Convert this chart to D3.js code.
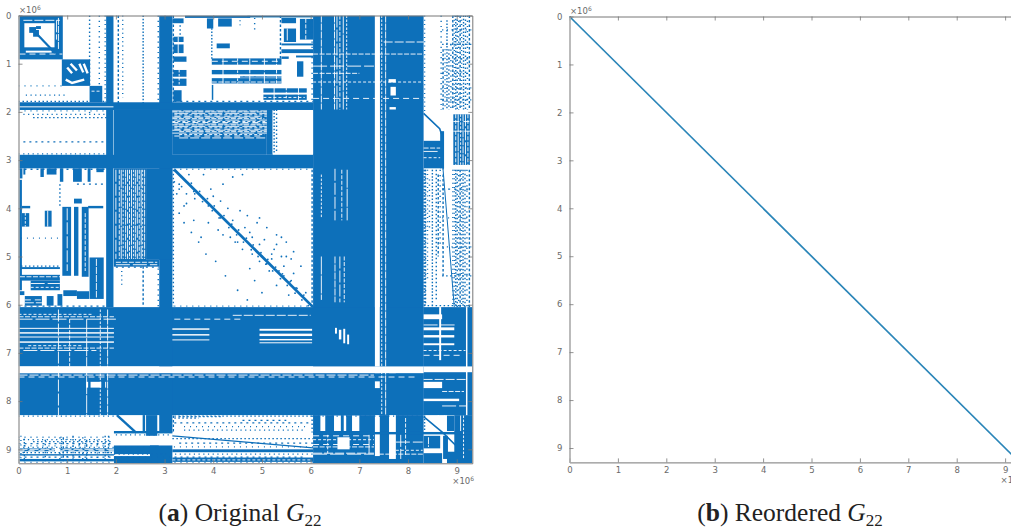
<!DOCTYPE html>
<html>
<head>
<meta charset="utf-8">
<script src="https://cdn.jsdelivr.net/npm/d3@7"></script>
<style>
  html, body { margin: 0; padding: 0; background: #fff; overflow: hidden; }
  .tick text, .mult { font-family: "DejaVu Sans", sans-serif; font-size: 8.5px; fill: #6a6a6a; }
  .caption { font-family: "Liberation Serif", serif; font-size: 25.5px; fill: #222; text-anchor: middle; }
</style>
</head>
<body>
<div class="canvas"></div>
<script>
// all positions below are matrix indices in units of 1e6 : [x0, x1, y0, y1]
const tickValues = [0, 1, 2, 3, 4, 5, 6, 7, 8, 9];

// solid parts of the sparsity pattern
const denseBlocks = [
  [6.05, 7.32, 0, 8.29], [7.42, 8.32, 0, 8.29],
  [0, 8.32, 6.05, 7.28], [0, 8.32, 7.42, 8.29],
  [7.32, 7.62, 7.28, 7.42], [7.75, 8.32, 7.28, 7.42],
  [2.89, 3.16, 0, 8.65], [1.96, 3.16, 1.96, 3.17], [2.62, 3.16, 3.17, 5.07],
  [0, 6.05, 2.89, 3.17], [3.16, 5.1, 1.96, 2.89], [5.1, 5.22, 1.96, 2.89],
  [0, 6.05, 1.8, 1.96], [1.8, 1.95, 0, 6.05],
  [0, 0.91, 0, 0.91], [0.89, 1.47, 0.91, 1.46], [1.46, 1.72, 1.46, 1.8],
  [1.96, 2.62, 3.17, 5.2], [1.96, 2.89, 5.07, 5.21],
  [0, 0.07, 3.41, 5.7],
  [8.32, 9.32, 6.05, 8.29], [8.32, 8.68, 2.6, 3.17], [8.93, 9.27, 2.05, 3.1], [8.66, 8.74, 2.4, 3.17],
  [6.05, 8.32, 8.29, 9.29], [8.95, 9.32, 8.29, 9.29]
];

// holes cut out of the solid parts
const emptyBlocks = [
  [0.12, 0.74, 0.16, 0.66], [0.15, 0.68, 0.73, 0.77],
  [0, 1.95, 1.885, 1.905], [0, 8.32, 7.28, 7.42],
  [7.32, 7.42, 0, 7.28], [7.32, 7.42, 7.59, 7.73],
  [7.61, 7.75, 7.3, 7.42],
  [5.22, 6.05, 1.97, 2.87], [1.98, 2.88, 5.22, 6.02],
  [6.2, 6.3, 8.3, 8.62], [6.48, 6.62, 8.3, 8.62], [6.68, 6.73, 8.3, 8.62], [6.85, 7, 8.3, 8.62],
  [6.55, 6.8, 8.75, 9],
  [7.32, 7.42, 8.29, 9.14], [7.61, 7.75, 8.29, 9.2],
  [8.32, 9.32, 7.28, 7.4], [8.32, 8.7, 7.6, 7.73], [8.32, 8.7, 6.2, 6.3], [8.32, 8.95, 6.47, 6.53],
  [8.32, 8.95, 6.63, 6.68], [8.32, 8.95, 6.8, 6.84], [8.64, 8.68, 6.05, 7.15], [9.19, 9.22, 6.05, 8.29],
  [8.32, 9.05, 7.95, 8.0], [1.39, 1.43, 7.6, 7.72], [1.48, 1.7, 7.6, 7.72], [1.78, 1.8, 7.6, 7.72],
  [0, 1.96, 6.48, 6.5], [0, 1.96, 6.57, 6.6], [0, 1.96, 6.66, 6.68], [0, 1.96, 6.76, 6.79],
  [3.16, 3.92, 6.49, 6.52], [3.16, 3.92, 6.61, 6.64], [3.16, 3.92, 6.72, 6.74],
  [4.95, 6.03, 6.5, 6.54], [4.95, 6.03, 6.6, 6.65], [4.95, 6.03, 6.71, 6.74], [4.95, 6.03, 6.78, 6.8],
  [6.5, 6.54, 6.48, 6.6], [6.58, 6.63, 6.52, 6.72], [6.67, 6.71, 6.5, 6.8], [6.75, 6.79, 6.62, 6.82],
  [7.6, 7.75, 1.32, 1.39], [7.64, 7.75, 1.48, 1.66], [7.62, 7.75, 1.9, 1.95]
];

// smaller solid pieces that sit in the white areas
const detailBlocks = [
  [0.22, 0.36, 0.24, 0.36], [0.3, 0.42, 0.3, 0.44], [0.36, 0.46, 0.22, 0.28],
  [3.16, 3.39, 0.06, 0.16], [3.18, 3.39, 0.44, 0.55], [3.18, 3.39, 0.6, 0.78],
  [3.18, 3.45, 0.85, 0.96], [3.18, 3.45, 1.13, 1.27], [3.18, 3.45, 1.31, 1.46],
  [3.18, 3.35, 1.55, 1.79], [3.42, 4.76, 0, 0.05],
  [3.87, 4, 0.06, 0.27], [4.1, 4.38, 0.06, 0.23], [4.07, 4.34, 0.58, 0.68],
  [3.97, 5.4, 0.89, 1.02], [3.97, 5.4, 1.13, 1.22], [3.97, 5.4, 1.3, 1.41], [3.97, 4, 1.44, 1.75],
  [4.55, 5.4, 1.26, 1.29], [5.03, 5.92, 1.51, 1.6], [5.03, 5.92, 1.64, 1.75],
  [4.7, 6.05, 0, 0.04], [5.4, 5.7, 0.05, 0.16], [5.45, 5.7, 0.27, 0.55], [5.78, 6.05, 0.07, 0.5],
  [5.4, 6.05, 0.58, 0.62], [5.4, 6.05, 0.7, 0.78], [5.7, 6.05, 0.83, 0.87],
  [5.72, 5.85, 0.95, 1.27], [5.4, 5.55, 0.85, 0.9],
  [0.02, 0.08, 3.17, 3.38], [0.1, 0.14, 3.17, 3.3], [0.45, 0.52, 3.17, 3.35], [0.58, 0.78, 3.17, 3.3],
  [0.85, 0.92, 3.17, 3.45], [1.12, 1.3, 3.17, 3.45], [1.42, 1.48, 3.17, 3.45], [1.6, 1.75, 3.17, 3.25],
  [0.07, 0.24, 3.95, 4.0], [0.07, 0.22, 4.1, 4.38], [0.54, 0.68, 4.05, 4.38],
  [0.9, 1.08, 3.97, 5.4], [1.14, 1.23, 3.97, 5.4], [1.3, 1.44, 3.97, 5.42], [1.14, 1.3, 3.8, 3.9],
  [1.43, 1.74, 3.95, 4], [1.46, 1.75, 5.02, 5.88],
  [0.03, 0.85, 5.38, 5.5], [0.25, 0.85, 5.5, 5.7], [0.13, 0.48, 5.82, 6.02], [0.58, 0.72, 5.82, 6.02],
  [0.8, 0.9, 5.78, 6.02], [0.92, 1.2, 5.7, 5.82], [1.2, 1.45, 5.72, 5.88], [0.05, 0.85, 5.22, 5.26],
  [0.02, 0.12, 5.72, 5.8],
  [0, 0.75, 8.98, 9.04], [0.85, 1.96, 8.98, 9.04], [0, 1.96, 9.1, 9.13], [0, 1.96, 9.2, 9.25], [1.96, 2.88, 8.92, 9.1], [1.96, 2.88, 9.14, 9.29],
  [2.55, 2.6, 8.29, 8.62], [2.62, 2.85, 8.29, 8.72],
  [1.96, 3.16, 8.62, 8.67], [3.16, 6.05, 9.0, 9.06], [3.16, 6.05, 9.17, 9.26],
  [2.7, 3.16, 8.92, 9.29], [8.32, 8.66, 8.72, 8.98], [8.32, 8.7, 9.08, 9.29],
  [6.05, 9.32, 8.64, 8.69], [8.72, 8.82, 8.72, 9.2],
  [8.8, 8.95, 8.3, 8.62], [8.8, 9.0, 9.05, 9.29]
];

// columns and rows with scattered nonzeros : [position, from, to]
const sparseColumns = [
  [1.46, 0, 1.45], [1.66, 0, 1.45], [2.05, 0, 1.9], [2.14, 0, 1.7], [2.56, 0, 1.9],
  [0.85, 3.5, 3.95], [1.46, 2.0, 2.1], [2.56, 5.2, 6.02], [2.12, 5.3, 5.6],
  [3.97, 0.2, 0.9], [3.32, 0.2, 0.45], [4.85, 0.05, 0.3], [5.38, 0, 0.9], [4.55, 0.1, 0.2],
  [5.25, 1.95, 2.85], [5.3, 1.95, 2.85],
  [8.68, 0, 1.95], [8.72, 0.7, 1.95], [8.76, 0.7, 1.95], [8.8, 0.1, 1.95], [8.84, 0.7, 1.95], [8.88, 0.6, 1.95],
  [8.92, 0, 1.95], [8.95, 0, 1.95], [8.98, 0, 1.95], [9.01, 0, 1.95], [9.04, 0, 1.95], [9.07, 0, 1.95], [9.1, 0, 1.95],
  [9.14, 0, 1.95], [9.18, 0, 1.95], [9.22, 0, 1.95], [9.26, 0, 1.95],
  [8.4, 3.2, 5.5], [8.5, 3.2, 6.0], [8.58, 3.2, 5.9], [8.66, 3.2, 4.8], [8.72, 3.3, 5.4],
  [8.95, 3.2, 6.05], [8.98, 3.2, 6.05], [9.01, 3.2, 6.05], [9.04, 3.2, 6.05], [9.07, 3.2, 6.05], [9.1, 3.2, 6.05],
  [9.13, 3.2, 6.05], [9.17, 3.2, 6.05], [9.21, 3.2, 6.05], [9.26, 3.2, 6.05],
  [8.92, 3.2, 6.05], [8.33, 3.2, 6.0], [8.36, 3.2, 6.0], [8.44, 3.4, 4.4], [8.62, 3.3, 5.0],
  [0.05, 8.72, 9.25], [0.12, 8.78, 9.25], [0.55, 8.8, 9.25], [0.85, 8.75, 9.25], [0.92, 8.75, 9.25], [1.0, 8.78, 9.25],
  [1.12, 8.72, 9.25], [1.25, 8.8, 9.25], [1.32, 8.75, 9.25], [1.4, 8.8, 9.25], [1.62, 8.8, 9.25], [1.78, 8.72, 9.25], [1.85, 8.72, 9.25],
  // fuzz on the edges of the big bands
  [6.03, 0, 1.8], [6.03, 3.2, 6.05], [8.34, 0, 2], [8.35, 3.2, 6.03], [3.18, 3.2, 6.03], [2.87, 0, 1.85],
  [3.18, 0, 1.8], [1.78, 0, 1.8], [8.34, 8.3, 8.6], [6.03, 8.3, 8.65], [2.87, 5.25, 6.03], [3.18, 8.3, 8.65]
];
const sparseRows = [
  [2.05, 0.1, 1.9], [2.12, 0.3, 1.85], [2.62, 0.1, 1.9], [1.46, 0, 0.9], [1.65, 0.15, 0.95],
  [8.32, 3.3, 4.2], [8.45, 3.2, 6.0], [8.53, 3.4, 5.9], [8.6, 3.4, 5.9], [8.35, 3.2, 3.7], [8.4, 4.6, 5.5],
  [8.75, 0, 1.96], [8.8, 0, 1.7], [8.84, 0.3, 1.9], [8.88, 0, 1.96], [8.93, 0, 1.96], [8.96, 0, 1.96], [9.07, 0, 1.96], [9.16, 0, 5.9], [9.27, 0, 8.3],
  [8.7, 2, 3.16], [8.78, 3.16, 6.05], [8.87, 3.3, 6.05], [8.95, 1.96, 6.05],
  [9.1, 1.96, 6.05], [5.2, 0.05, 0.85], [3.5, 1.2, 1.75], [4.62, 0.05, 1.2],
  [0.3, 8.7, 9.3], [0.6, 8.7, 9.3], [0.9, 8.7, 9.3], [1.2, 8.7, 9.3], [1.5, 8.7, 9.3], [1.75, 8.7, 9.3],
  [3.6, 8.7, 9.3], [4.2, 8.7, 9.3], [4.8, 8.7, 9.3], [5.4, 8.7, 9.3],
  // fuzz on the edges of the big bands
  [6.03, 0, 1.9], [6.03, 3.2, 6.05], [8.31, 0, 2], [8.31, 3.2, 6.05], [3.19, 0, 1.9], [3.19, 3.2, 6.0],
  [2.87, 0, 1.9], [1.78, 0, 1.8], [1.78, 3.2, 6.05], [1.98, 0, 1.9], [8.31, 6.05, 8.32], [6.02, 8.32, 9.3], [5.22, 2, 2.88]
];

// rows and columns with gaps in the solid parts
const gapRows = [
  [1.98, 3.16, 5.1], [2.0, 3.16, 5.1], [2.03, 3.2, 5.1], [2.06, 3.2, 5.1], [2.09, 3.2, 5.1], [2.11, 3.16, 5.0], [2.14, 3.16, 5.05],
  [2.17, 3.2, 5.1], [2.2, 3.16, 5.1], [2.22, 3.16, 5.1], [2.25, 3.2, 5.1], [2.27, 3.16, 5.05], [2.3, 3.2, 5.1],
  [2.33, 3.2, 5.1], [2.36, 3.2, 5.1], [2.38, 3.16, 5.1], [2.41, 3.3, 5.1], [2.44, 3.16, 5.1], [2.47, 3.3, 5.05], [2.5, 3.2, 5.05], [2.54, 3.3, 5.1],
  [6.25, 0, 1.96], [6.3, 0, 2], [6.2, 0, 1.5], [6.3, 3.2, 4.6], [6.22, 4.4, 6], [6.9, 0, 1.96], [6.95, 0.1, 1.6], [6.85, 0.2, 1.3], [7.5, 0, 8.2], [7.46, 0, 7.3],
  [0.8, 6.05, 8.32], [1.05, 6.05, 7.3], [1.38, 6.05, 8.32], [1.72, 6.05, 8.32], [0.55, 7.5, 8.32], [1.2, 6.05, 7],
  [6.42, 8.32, 9], [6.95, 8.32, 9.18], [7.05, 8.32, 9.1], [7.55, 8.32, 9.2], [7.8, 8.7, 9.15], [8.1, 8.7, 9.2],
  [8.8, 6.05, 7.3], [8.9, 6.05, 7.3], [9.08, 6.05, 7.3], [9.1, 7.4, 8.32], [8.85, 7.75, 8.3], [9.02, 7.75, 8.3],
  [0.95, 3.97, 5.4], [1.25, 3.97, 5.4], [1.38, 3.97, 5.4], [1.62, 5.03, 5.88], [1.7, 5.03, 5.88],
  [2.2, 8.93, 9.27], [2.4, 8.93, 9.27], [2.75, 8.32, 8.66], [2.82, 8.32, 8.66], [2.95, 8.32, 8.66],
  [0.8, 0.02, 0.9], [0.1, 0.1, 0.85], [5.12, 2, 2.85], [5.17, 2, 2.85], [1.57, 1.5, 1.7], [8.72, 6.05, 7.3], [9.0, 0, 1.96],
  [5.42, 0.03, 0.85], [5.56, 0.25, 0.85], [5.64, 0.25, 0.85], [5.9, 0.13, 0.48], [5.96, 0.13, 0.48],
  [8.95, 6.05, 7.3], [9.1, 6.05, 7.3], [9.22, 3.16, 6], [9.03, 0, 1.96]
];
const gapColumns = [
  [6.49, 0, 1.95], [6.54, 0, 1.95], [6.6, 0, 1.95], [6.67, 0, 1.95], [6.74, 0, 1.95], [6.22, 0, 1.95],
  [6.5, 3.18, 4.25], [6.64, 3.2, 4.25], [6.75, 3.2, 4.25], [6.22, 3.3, 4.2], [6.5, 5, 5.95], [6.6, 5, 5.95], [6.69, 5, 5.95], [6.22, 5, 5.9],
  [7.46, 0, 8.29], [7.54, 0, 8.29], [0.82, 6.1, 8.29], [1.05, 6.3, 7.28], [1.4, 6.3, 8.29], [1.68, 6.1, 8.29], [1.83, 6.1, 8.29],
  [2, 3.2, 5.05], [2.07, 3.2, 5.05], [2.11, 3.2, 5.05], [2.15, 3.2, 5.05], [2.2, 3.2, 5.05], [2.24, 3.2, 5.05], [2.28, 3.2, 5.05], [2.32, 3.2, 5.05],
  [2.36, 3.2, 5.05], [2.4, 3.2, 5.05], [2.44, 3.2, 5.05], [2.48, 3.2, 5.05], [2.52, 3.2, 5.05], [2.55, 3.2, 5.05], [2.59, 3.2, 5.05],
  [8.62, 8.29, 8.6], [8.75, 8.3, 8.62], [9.08, 8.3, 8.62], [9.14, 8.3, 9.2], [8.42, 8.75, 8.95], [7.85, 8.7, 9.2], [7.95, 8.35, 9.15], [7.2, 8.7, 9.1], [6.35, 8.7, 9.1],
  [1.6, 5.05, 5.85], [1.0, 4, 5.3], [1.37, 4.1, 5.3], [0.6, 4.05, 4.38], [0.14, 4.1, 4.38], [0.82, 0.05, 0.7], [0.78, 0.1, 0.5],
  [8.98, 2.05, 3.1], [9.03, 2.05, 3.1], [9.08, 2.05, 3.1], [9.13, 2.05, 3.1], [9.18, 2.05, 3.1], [9.23, 2.05, 3.1],
  [4.2, 0.89, 1.41], [4.5, 0.89, 1.41], [4.75, 0.89, 1.41], [5.05, 0.89, 1.41], [5.3, 0.89, 1.41],
  [5.25, 1.5, 1.75], [5.5, 1.5, 1.75], [5.75, 1.5, 1.75], [5.52, 0.27, 0.55], [5.9, 0.07, 0.5], [3.28, 0.44, 0.78], [3.3, 1.13, 1.46]
];

// thin curves of nonzeros
const bandLines = [
  { xs: [3.2, 6.05], ys: [3.2, 6.05], w: 2.8 },
  { xs: [0.3, 0.75], ys: [0.3, 0.78], w: 2.2 },
  { xs: [8.32, 8.65, 8.72, 8.72], ys: [2.03, 2.35, 2.55, 3.2], w: 1.6 },
  { xs: [8.72, 8.85, 8.95], ys: [3.2, 4.8, 6.05], w: 1 },
  { xs: [2.02, 2.42], ys: [8.29, 8.66], w: 2.4 },
  { xs: [3.16, 6.05], ys: [8.72, 8.97], w: 1.2 },
  { xs: [8.32, 8.72, 9.08], ys: [8.32, 8.66, 9.02], w: 1.6 }
];

// empty curves inside the second diagonal block
const gapLines = [
  { xs: [1.0, 1.1], ys: [1.08, 1.2] },
  { xs: [1.07, 1.2], ys: [1.0, 1.14] },
  { xs: [1.25, 1.33], ys: [1.0, 1.18] },
  { xs: [1.34, 1.42], ys: [1.0, 1.2] },
  { xs: [0.97, 1.1, 1.35], ys: [1.33, 1.4, 1.33] }
];

// scattered nonzeros either side of the long diagonal
const dotX = [3.3, 3.5, 3.62, 3.4, 3.8, 3.95, 4.2, 4.4, 4.6, 3.3, 3.4, 3.55, 3.7, 3.85, 4.05, 4.25, 4.5, 4.7, 4.85, 5.0,
  4.15, 4.3, 4.55, 4.7, 4.9, 5.1, 5.3, 5.5, 5.65, 5.8, 5.2, 5.35, 5.45, 5.6, 4.75, 4.95, 5.05, 5.25, 5.4, 5.7,
  3.9, 4.1, 4.35, 4.6, 4.75, 5.15, 5.3, 5.55, 3.45, 3.6, 3.75, 3.3, 3.25, 4.95, 5.6, 5.9, 5.0, 4.8, 4.45, 4.2,
  3.2, 3.35, 3.45, 3.6, 3.8, 4.0, 4.15, 4.4, 4.65, 4.8, 3.9, 4.5, 5.3, 5.65, 5.2, 5.4, 5.1, 4.95, 5.45, 5.5,
  3.55, 3.72, 3.88, 4.02, 4.22, 4.38, 4.52, 4.68, 4.82, 4.98, 5.12, 5.28, 5.42, 5.58, 5.72, 5.86,
  3.62, 3.78, 3.98, 4.12, 4.32, 4.48, 4.62, 4.78, 4.92, 5.08, 5.22, 5.38, 5.52, 5.68, 5.82, 5.95];
const dotY = [3.6, 3.3, 3.8, 3.95, 3.3, 3.6, 3.5, 3.35, 3.3, 4.1, 4.3, 4.5, 4.7, 4.95, 5.1, 5.4, 5.7, 5.9, 5.5, 5.75,
  3.85, 4.0, 4.05, 4.15, 4.3, 4.4, 4.55, 4.7, 4.9, 5.2, 5.05, 5.3, 5.2, 5.5, 4.5, 4.75, 4.65, 4.85, 5.0, 5.65,
  4.3, 4.45, 4.6, 4.85, 5.25, 5.3, 5.6, 5.8, 3.9, 4.25, 4.6, 3.5, 3.7, 4.2, 5.05, 5.75, 5.0, 4.95, 4.7, 4.55,
  3.45, 3.55, 3.7, 3.65, 3.8, 3.75, 4.2, 4.25, 4.4, 4.6, 3.95, 4.7, 4.75, 5.35, 4.95, 4.6, 5.15, 5.1, 5.4, 5.0,
  3.48, 3.65, 3.8, 3.95, 4.15, 4.33, 4.45, 4.62, 4.76, 4.92, 5.06, 5.22, 5.36, 5.52, 5.66, 5.8,
  3.7, 3.86, 4.05, 4.2, 4.4, 4.55, 4.7, 4.86, 5.0, 5.16, 5.3, 5.46, 5.6, 5.76, 5.9, 6.02];

// the reordered matrix keeps everything on the diagonal
const reorderedX = [0, 9.32];
const reorderedY = [0, 9.32];

const blue = '#0f6fba';

const svg = d3.select('.canvas')
  .append('svg')
  .attr('width', 1011)
  .attr('height', 529)
  .style('display', 'block');

const defs = svg.append('defs');
defs.append('filter').attr('id', 'soft')
  .append('feGaussianBlur').attr('stdDeviation', 0.4);
defs.append('clipPath').attr('id', 'plotA').append('rect')
  .attr('x', 18.5).attr('y', 15.5).attr('width', 453.8).attr('height', 447.8);

const xA = d3.scaleLinear().domain([0, 9.32]).range([18.5, 472.3]);
const yA = d3.scaleLinear().domain([0, 9.29]).range([15.5, 463.3]);
const xB = d3.scaleLinear().domain([0, 9.32]).range([569.5, 1020.6]);
const yB = d3.scaleLinear().domain([0, 9.3]).range([16.5, 462.4]);

const pattern = svg.append('g')
  .attr('clip-path', 'url(#plotA)')
  .append('g')
  .attr('filter', 'url(#soft)');

const drawBlocks = (rows, fill) => {
  pattern.append('g').selectAll('rect')
    .data(rows)
    .join('rect')
    .attr('x', d => xA(d[0]))
    .attr('y', d => yA(d[2]))
    .attr('width', d => xA(d[1]) - xA(d[0]))
    .attr('height', d => yA(d[3]) - yA(d[2]))
    .attr('fill', fill);
};

const drawColumns = (rows, color, dash, w) => {
  pattern.append('g').selectAll('line')
    .data(rows)
    .join('line')
    .attr('x1', d => xA(d[0]))
    .attr('x2', d => xA(d[0]))
    .attr('y1', d => yA(d[1]))
    .attr('y2', d => yA(d[2]))
    .attr('stroke', color)
    .attr('stroke-width', w)
    .attr('stroke-dasharray', (d, i) => dash[i % dash.length]);
};

const drawRows = (rows, color, dash, w) => {
  pattern.append('g').selectAll('line')
    .data(rows)
    .join('line')
    .attr('x1', d => xA(d[1]))
    .attr('x2', d => xA(d[2]))
    .attr('y1', d => yA(d[0]))
    .attr('y2', d => yA(d[0]))
    .attr('stroke', color)
    .attr('stroke-width', w)
    .attr('stroke-dasharray', (d, i) => dash[i % dash.length]);
};

const bandLine = d3.line().x(d => xA(d[0])).y(d => yA(d[1]));
const drawCurves = (rows, color, widthOf) => {
  pattern.append('g').selectAll('path')
    .data(rows)
    .join('path')
    .attr('d', d => bandLine(d3.zip(d.xs, d.ys)))
    .attr('fill', 'none')
    .attr('stroke', color)
    .attr('stroke-width', widthOf);
};

drawBlocks(denseBlocks, blue);
drawBlocks(emptyBlocks, '#fff');
drawBlocks(detailBlocks, blue);

drawColumns(sparseColumns, blue, ['1.5 2.5', '1.2 4', '2.5 2', '1 3.3', '1.5 1.7'], 1.4);
drawRows(sparseRows, blue, ['1.2 3.5', '1.5 2.5', '2 4', '1 5'], 1.3);
drawColumns(gapColumns, '#fff', ['7 1', '12 2', '4 1.5', '18 1', '2.5 1.5'], 0.9);
drawRows(gapRows, '#fff', ['9 2', '5 1.5', '14 3', '3 2', '6 4'], 0.9);

drawCurves(bandLines, blue, d => d.w);
drawCurves(gapLines, '#fff', 2.4);

pattern.append('g').selectAll('circle')
  .data(d3.zip(dotX, dotY))
  .join('circle')
  .attr('cx', d => xA(d[0]))
  .attr('cy', d => yA(d[1]))
  .attr('r', 0.9)
  .attr('fill', blue);

// Reordered matrix
const lineB = d3.line().x(d => xB(d[0])).y(d => yB(d[1]));
svg.append('path')
  .datum(d3.zip(reorderedX, reorderedY))
  .attr('d', lineB)
  .attr('fill', 'none')
  .attr('stroke', '#2a85b8')
  .attr('stroke-width', 1.7);

// Axes, ticks point inward like the original figure
const drawFrame = (x, y) => {
  const [x0, x1] = x.range();
  const [y0, y1] = y.range();
  const styleAxis = g => {
    g.selectAll('.domain').attr('stroke', '#777').attr('stroke-width', 1);
    g.selectAll('.tick line').attr('stroke', '#777').attr('stroke-width', 0.8);
  };
  const noText = g => g.selectAll('text').remove();

  svg.append('g').attr('transform', `translate(0,${y1})`)
    .call(d3.axisBottom(x).tickValues(tickValues).tickFormat(d3.format('d')).tickSizeInner(-4).tickSizeOuter(0).tickPadding(5))
    .call(styleAxis)
    .call(g => g.selectAll('.tick text').attr('dy', '0.71em'));
  svg.append('g').attr('transform', `translate(0,${y0})`)
    .call(d3.axisTop(x).tickValues(tickValues).tickSizeInner(-4).tickSizeOuter(0))
    .call(styleAxis).call(noText);
  svg.append('g').attr('transform', `translate(${x0},0)`)
    .call(d3.axisLeft(y).tickValues(tickValues).tickFormat(d3.format('d')).tickSizeInner(-4).tickSizeOuter(0).tickPadding(7))
    .call(styleAxis)
    .call(g => g.select('.domain').attr('stroke', '#aaa').attr('stroke-width', 1.6));
  svg.append('g').attr('transform', `translate(${x1},0)`)
    .call(d3.axisRight(y).tickValues(tickValues).tickSizeInner(-4).tickSizeOuter(0))
    .call(styleAxis).call(noText);

  // exponent labels
  const mult = (px, py) => {
    const t = svg.append('text').attr('class', 'mult').attr('x', px).attr('y', py);
    t.append('tspan').text('×10');
    t.append('tspan').attr('dy', -3).style('font-size', '6px').text('6');
  };
  mult(x0 + 0.5, y0 - 2.5);
  mult(x1 - 20, y1 + 21);
};

drawFrame(xA, yA);
drawFrame(xB, yB);

// Captions
const caption = (cx, tag, label) => {
  const t = svg.append('text').attr('class', 'caption').attr('x', cx).attr('y', 521);
  t.append('tspan').text('(');
  t.append('tspan').style('font-weight', 'bold').text(tag);
  t.append('tspan').text(`) ${label} `);
  t.append('tspan').style('font-style', 'italic').text('G');
  t.append('tspan').attr('dy', 5).style('font-size', '17px').text('22');
};
caption(240, 'a', 'Original');
caption(790, 'b', 'Reordered');
</script>
</body>
</html>
